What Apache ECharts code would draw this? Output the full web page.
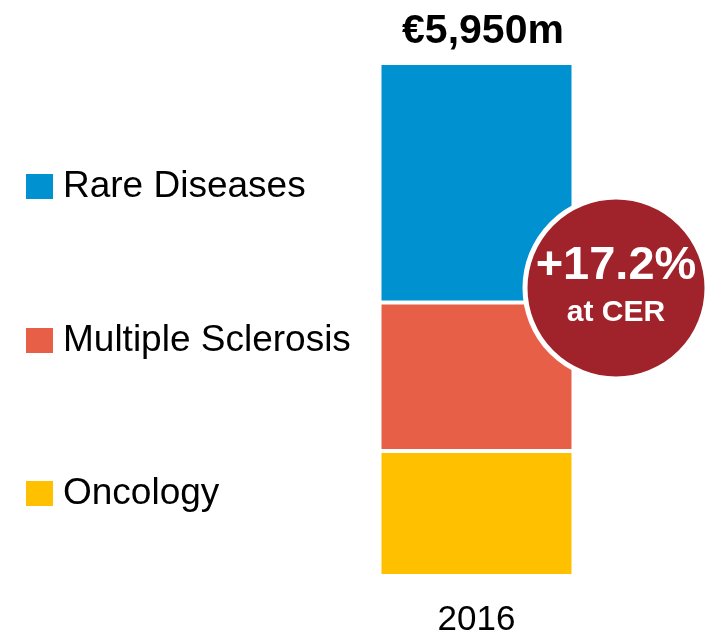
<!DOCTYPE html>
<html>
<head>
<meta charset="utf-8">
<style>html,body{margin:0;padding:0;background:#fff;}#c{width:723px;height:637px;}</style>
<script src="https://cdn.jsdelivr.net/npm/echarts@6/dist/echarts.min.js"></script>
</head>
<body>
<div id="c"></div>
<script>
var categories = ['2016'];
var seriesNames = ['Rare Diseases', 'Multiple Sclerosis', 'Oncology'];
var rareDiseases = [2777];
var multipleSclerosis = [1723];
var oncology = [1450];
var totalLabel = '€5,950m';
var growthLabel = '+17.2%';
var growthSub = 'at CER';

var colors = {'Rare Diseases':'#0091D0','Multiple Sclerosis':'#E85F47','Oncology':'#FFC000'};
var FONT = '"Liberation Sans", Arial, sans-serif';
var chart = echarts.init(document.getElementById('c'));

function bar(name, data){
  return {
    name: name, type: 'bar', stack: 'total', data: data,
    barWidth: 194,
    itemStyle: {color: colors[name], borderColor: '#fff', borderWidth: 2},
    emphasis: {disabled: true}, silent: true
  };
}
function leg(name, top){
  return {
    data: [name], left: 19, top: top, orient: 'vertical', icon: 'rect',
    itemWidth: 29, itemHeight: 27, selectedMode: false,
    textStyle: {fontSize: 37, color: '#000', fontFamily: FONT, padding: [0,0,0,4]}
  };
}
var option = {
  animation: false,
  grid: {left: 379.5, width: 194, top: 63, bottom: 61, containLabel: false, outerBoundsMode: 'none'},
  legend: [leg('Rare Diseases', 163), leg('Multiple Sclerosis', 317), leg('Oncology', 470)],
  xAxis: {type: 'category', data: categories, axisLine: {show: false}, axisTick: {show: false},
    axisLabel: {fontSize: 35, color: '#000', fontFamily: FONT, margin: 27}},
  yAxis: {type: 'value', min: 0, max: 5950, show: false},
  series: [bar('Oncology', oncology), bar('Multiple Sclerosis', multipleSclerosis), bar('Rare Diseases', rareDiseases)],
  title: {text: totalLabel, left: 478, textAlign: 'center', top: 6,
    textStyle: {fontSize: 41, fontWeight: 'bold', color: '#000', fontFamily: FONT}}
};
chart.setOption(option);

var cx = 616, cy = 288;
chart.setOption({
  graphic: [
    {type: 'circle', shape: {cx: cx, cy: cy, r: 91}, style: {fill: '#A0222A', stroke: '#fff', lineWidth: 5}, z: 100},
    {type: 'text', x: cx, y: 266, style: {text: growthLabel, fill: '#fff', font: 'bold 47px ' + FONT, textAlign: 'center', textVerticalAlign: 'middle'}, z: 101},
    {type: 'text', x: cx, y: 313, style: {text: growthSub, fill: '#fff', font: 'bold 30px ' + FONT, textAlign: 'center', textVerticalAlign: 'middle'}, z: 101}
  ]
});
</script>
</body>
</html>
